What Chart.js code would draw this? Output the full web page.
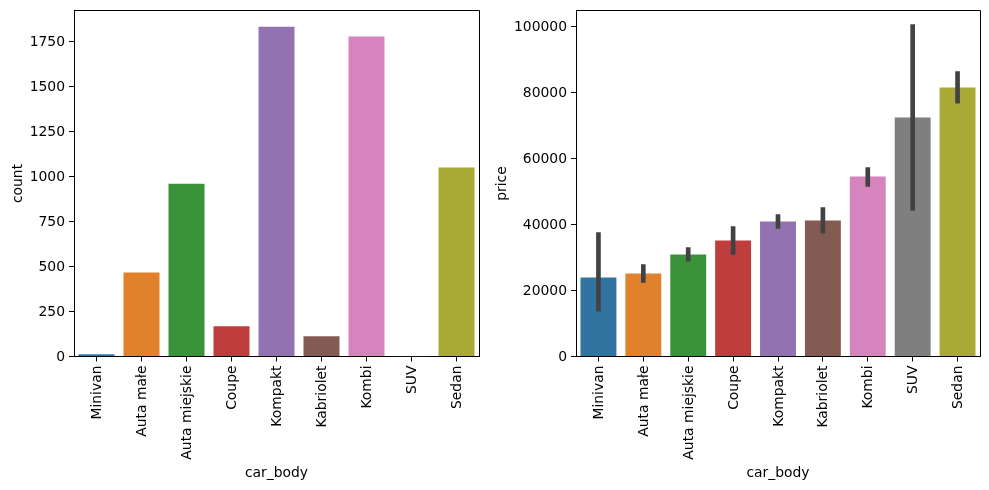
<!DOCTYPE html>
<html>
<head>
<meta charset="utf-8">
<style>
html,body{margin:0;padding:0;background:#fff;overflow:hidden}
canvas{position:absolute;top:0}
#a{left:0}
#b{left:494px}
</style>
<script src="https://cdn.jsdelivr.net/npm/chart.js@4"></script>
</head>
<body>
<canvas id="a"></canvas>
<canvas id="b"></canvas>
<script>
const categories=["Minivan","Auta małe","Auta miejskie","Coupe","Kompakt","Kabriolet","Kombi","SUV","Sedan"];
const counts=[12,467,960,168,1832,113,1777,1,1050];
const prices=[23960,25180,30940,35180,40950,41250,54600,72500,81600];
const priceLow=[13750,22450,28900,30940,38820,37400,51560,44300,76830];
const priceHigh=[37600,27900,33060,39430,43070,45190,57320,100700,86440];
const countTicks=[0,250,500,750,1000,1250,1500,1750];
const priceTicks=[0,20000,40000,60000,80000,100000];
const colors=["#3274a1","#e1812c","#3a923a","#c03d3e","#9372b2","#845b53","#d684bd","#7f7f7f","#a9aa35"];
const FONT="'DejaVu Sans'";
const FS=13.9;
Chart.defaults.devicePixelRatio=1;
const frame={id:'frame',afterDatasetsDraw(c){const {ctx,chartArea:r}=c;const x=Math.round(r.right)+.5,y=Math.floor(r.top)+.5;ctx.save();ctx.strokeStyle='#000';ctx.lineWidth=1;ctx.beginPath();ctx.moveTo(r.left,y);ctx.lineTo(x,y);ctx.lineTo(x,r.bottom);ctx.stroke();ctx.restore();}};
function make(id,w,pad,datasets,ymax,yticks,ylabel,ywidth){
  const el=document.getElementById(id);el.width=w;el.height=490;
  return new Chart(el,{type:'bar',data:{labels:categories,datasets},plugins:[frame],options:{
    responsive:false,animation:false,
    layout:{padding:pad},
    plugins:{legend:{display:false},tooltip:{enabled:false}},
    scales:{
      x:{offset:true,
        afterFit(s){s.height=133.5;s.paddingLeft=0;s.paddingRight=0;},
        grid:{display:true,drawOnChartArea:false,drawTicks:true,tickLength:5,tickColor:'#000',offset:false,tickWidth:1},
        border:{display:true,color:'#000'},
        ticks:{color:'#000',minRotation:90,maxRotation:90,autoSkip:false,padding:4,labelOffset:1,font:{family:FONT,size:FS}},
        title:{display:true,text:'car_body',color:'#000',font:{family:FONT,size:FS},padding:{top:0,bottom:8}}},
      y:{min:0,max:ymax,
        afterFit(s){s.width=ywidth;s.paddingTop=0;s.paddingBottom=0;},
        afterBuildTicks(s){s.ticks=yticks.map(v=>({value:v}));},
        grid:{drawOnChartArea:false,drawTicks:true,tickLength:5,tickColor:'#000'},
        border:{display:true,color:'#000'},
        ticks:{color:'#000',padding:4,labelOffset:1,font:{family:FONT,size:FS},callback:v=>String(v)},
        title:{display:true,text:ylabel,color:'#000',font:{family:FONT,size:FS},padding:{top:0,bottom:0}}}
    }}});
}
make('a',494,{left:10,right:15,top:10.5,bottom:0},[
  {data:counts,backgroundColor:colors,barPercentage:.8,categoryPercentage:1}
],1922,countTicks,'count',64);
make('b',495,{left:0,right:9,top:10.5,bottom:0},[
  {data:categories.map((_,i)=>[priceLow[i],priceHigh[i]]),backgroundColor:'#424242',barThickness:4,grouped:false,order:0},
  {data:prices,backgroundColor:colors,barPercentage:.8,categoryPercentage:1,grouped:false,order:1}
],104944,priceTicks,'price',82);
</script>
</body>
</html>
